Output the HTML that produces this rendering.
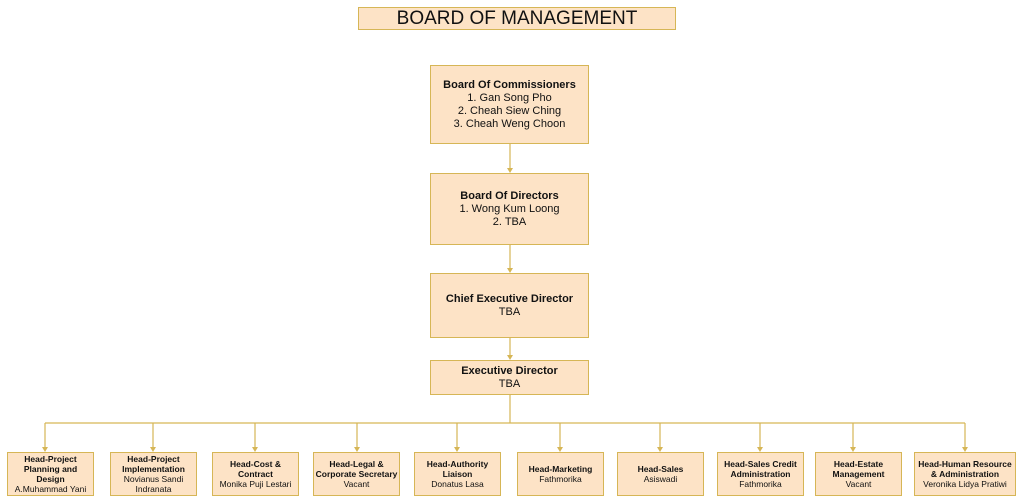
<!DOCTYPE html>
<html><head><meta charset="utf-8"><style>
body{margin:0;width:1024px;height:504px;background:#fff;position:relative;overflow:hidden;font-family:"Liberation Sans",Arial,sans-serif;}
.b{position:absolute;background:#fde3c6;border:1px solid #d6b656;box-sizing:border-box;display:flex;flex-direction:column;justify-content:center;align-items:center;text-align:center;color:#111;}
.m{font-size:11px;line-height:13px;}
.s{font-size:8.5px;line-height:10px;}
b{font-weight:bold;}
</style></head><body>
<div class="b" style="left:358px;top:7px;width:318px;height:23px;font-size:19px;">BOARD OF MANAGEMENT</div>
<svg width="1024" height="504" style="position:absolute;left:0;top:0" fill="none" stroke="#d6b656" stroke-width="1.2">
<path d="M510 143V170M510 244V270M510 337V357M510 394V423M45 423H965"/>
<g fill="#d6b656" stroke="none">
<path d="M507 168h6l-3 5z"/><path d="M507 268h6l-3 5z"/><path d="M507 355h6l-3 5z"/>
</g>
<path d="M45 423V448M153 423V448M255 423V448M357 423V448M457 423V448M560 423V448M660 423V448M760 423V448M853 423V448M965 423V448"/>
<g fill="#d6b656" stroke="none">
<path d="M42 447h6l-3 5z"/><path d="M150 447h6l-3 5z"/><path d="M252 447h6l-3 5z"/><path d="M354 447h6l-3 5z"/><path d="M454 447h6l-3 5z"/><path d="M557 447h6l-3 5z"/><path d="M657 447h6l-3 5z"/><path d="M757 447h6l-3 5z"/><path d="M850 447h6l-3 5z"/><path d="M962 447h6l-3 5z"/>
</g>
</svg>
<div class="b m" style="left:430px;top:65px;width:159px;height:79px;"><b>Board Of Commissioners</b>1. Gan Song Pho<br>2. Cheah Siew Ching<br>3. Cheah Weng Choon</div>
<div class="b m" style="left:430px;top:173px;width:159px;height:72px;"><b>Board Of Directors</b>1. Wong Kum Loong<br>2. TBA</div>
<div class="b m" style="left:430px;top:273px;width:159px;height:65px;"><b>Chief Executive Director</b>TBA</div>
<div class="b m" style="left:430px;top:360px;width:159px;height:35px;"><b>Executive Director</b>TBA</div>
<div class="b s" style="left:7px;top:452px;width:87px;height:44px;"><b>Head-Project<br>Planning and<br>Design</b>A.Muhammad Yani</div>
<div class="b s" style="left:110px;top:452px;width:87px;height:44px;"><b>Head-Project<br>Implementation</b>Novianus Sandi<br>Indranata</div>
<div class="b s" style="left:212px;top:452px;width:87px;height:44px;"><b>Head-Cost &amp;<br>Contract</b>Monika Puji Lestari</div>
<div class="b s" style="left:313px;top:452px;width:87px;height:44px;"><b>Head-Legal &amp;<br>Corporate Secretary</b>Vacant</div>
<div class="b s" style="left:414px;top:452px;width:87px;height:44px;"><b>Head-Authority<br>Liaison</b>Donatus Lasa</div>
<div class="b s" style="left:517px;top:452px;width:87px;height:44px;"><b>Head-Marketing</b>Fathmorika</div>
<div class="b s" style="left:617px;top:452px;width:87px;height:44px;"><b>Head-Sales</b>Asiswadi</div>
<div class="b s" style="left:717px;top:452px;width:87px;height:44px;"><b>Head-Sales Credit<br>Administration</b>Fathmorika</div>
<div class="b s" style="left:815px;top:452px;width:87px;height:44px;"><b>Head-Estate<br>Management</b>Vacant</div>
<div class="b s" style="left:914px;top:452px;width:102px;height:44px;"><b>Head-Human Resource<br>&amp; Administration</b>Veronika Lidya Pratiwi</div>
</body></html>
